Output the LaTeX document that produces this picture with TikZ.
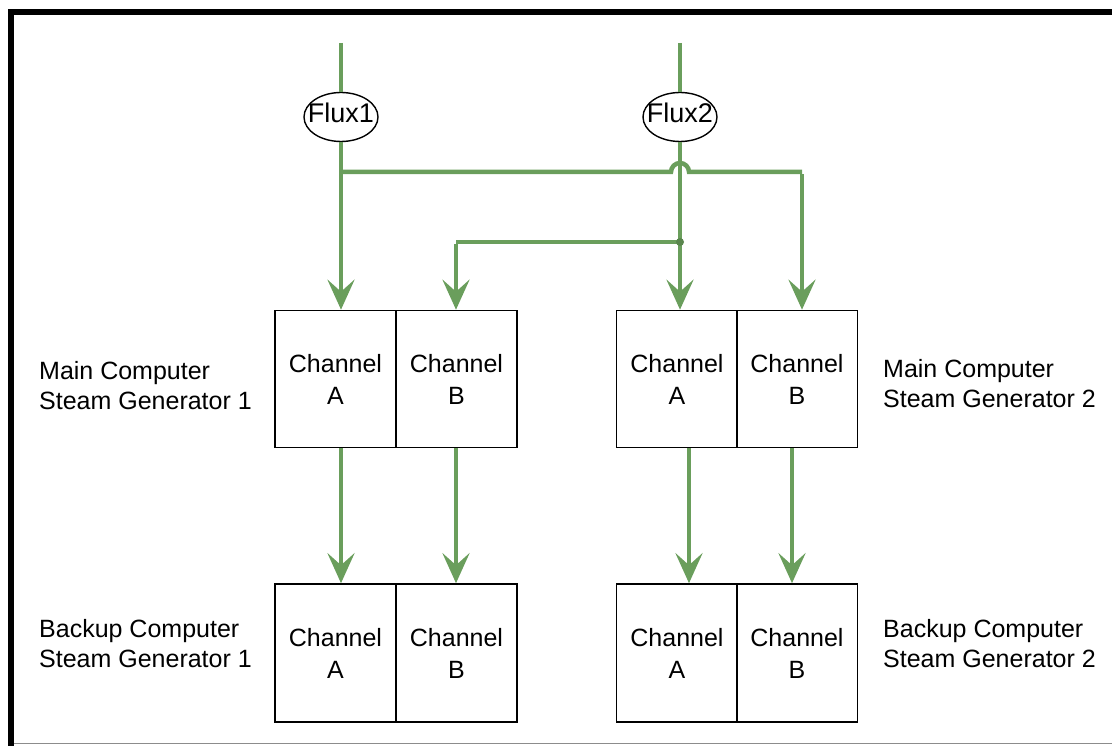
\documentclass[tikz,border=0pt]{standalone}
\usepackage{fontspec}
\setmainfont{Liberation Sans}
\usetikzlibrary{shapes.geometric,arrows.meta}
\definecolor{flow}{RGB}{106,158,92}
\begin{document}
\begin{tikzpicture}[x=1pt,y=-1pt,
  cell/.style={draw=black,line width=1.6pt,minimum width=121pt,minimum height=137pt,
    inner sep=0pt,align=center,font=\fontsize{25}{32}\selectfont},
  lowcell/.style={cell,minimum height=138pt},
  caption/.style={anchor=west,align=left,inner sep=0pt,font=\fontsize{25}{30.5}\selectfont},
  fluxring/.style={ellipse,draw=black,line width=1.4pt,minimum width=74pt,minimum height=49pt,inner sep=0pt},
  fluxname/.style={inner sep=0pt,font=\fontsize{27}{27}\selectfont},
  wire/.style={draw=flow,line width=4.5pt},
  feed/.style={wire,-{Stealth[length=30pt,width=27pt,inset=12pt]}},
]
\useasboundingbox (0,0) rectangle (1112,746);

% outer frame
\draw[line width=6pt] (11,746) -- (11,12) -- (1112,12);
\draw[black!45,line width=1pt] (14,743.5) -- (1112,743.5);

% main computers
\node[cell] (m1a) at (335.5,379) {Channel\\A};
\node[cell] (m1b) at (456.5,379) {Channel\\B};
\node[cell] (m2a) at (677,379) {Channel\\A};
\node[cell] (m2b) at (797,379) {Channel\\B};

% backup computers
\node[lowcell] (b1a) at (335.5,653) {Channel\\A};
\node[lowcell] (b1b) at (456.5,653) {Channel\\B};
\node[lowcell] (b2a) at (677,653) {Channel\\A};
\node[lowcell] (b2b) at (797,653) {Channel\\B};

% captions
\node[caption] (lm1) at (39,385.5) {Main Computer\\Steam Generator 1};
\node[caption] (lb1) at (39,643.5) {Backup Computer\\Steam Generator 1};
\node[caption] (lm2) at (883,383.5) {Main Computer\\Steam Generator 2};
\node[caption] (lb2) at (883,643.5) {Backup Computer\\Steam Generator 2};

% flux sources
\node[fluxring] (f1) at (341,117) {};
\node[fluxname] (f1t) at (341,113) {Flux1};
\node[fluxring] (f2) at (680,117) {};
\node[fluxname] (f2t) at (680,113) {Flux2};

\coordinate (f1top) at (341,43);
\coordinate (f2top) at (680,43);
\coordinate (j1) at (341,172);
\coordinate (hop) at (680,172);
\coordinate (c2) at (802,172);
\coordinate (j2) at (680,242);
\coordinate (c1) at (456,242);

% flux 1 feed and its cross link to channel B of generator 2
\draw[wire] (f1top) -- (f1.north);
\draw[feed] (f1.south) -- (f1.south |- m1a.north);
\draw[wire,line join=miter] (j1) -- ([xshift=-9pt]hop) arc[start angle=180,end angle=0,radius=9pt] -- (c2);
\draw[feed] ([yshift=-2.25pt]c2) -- (c2 |- m2b.north);

% flux 2 feed and its cross link to channel B of generator 1
\draw[wire] (f2top) -- (f2.north);
\draw[feed] (f2.south) -- (f2.south |- m2a.north);
\draw[wire] (j2) -- (c1);
\draw[feed] ([yshift=-2.25pt]c1) -- (c1 |- m1b.north);
\fill[flow!85!black] (j2) circle (4pt);

% main to backup
\draw[feed] (m1a.south -| f1) -- (b1a.north -| f1);
\draw[feed] (m1b.south -| c1) -- (b1b.north -| c1);
\draw[feed] ([xshift=12pt]m2a.south) -- ([xshift=12pt]b2a.north);
\draw[feed] ([xshift=-5pt]m2b.south) -- ([xshift=-5pt]b2b.north);
\end{tikzpicture}
\end{document}
